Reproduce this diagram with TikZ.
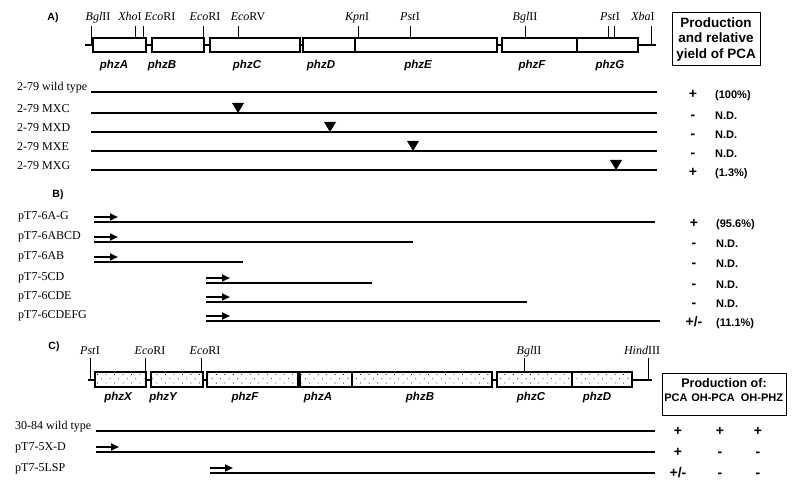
\documentclass[tikz,border=0pt]{standalone}
\usepackage{fontspec}
\setmainfont{Liberation Serif}
\setsansfont{Liberation Sans}
\usetikzlibrary{arrows.meta, patterns.meta, positioning}
\tikzset{
x=1pt, y=-1pt, % one unit is one pixel of the figure, y runs downwards
panel/.style={font=\sffamily\bfseries\fontsize{10.5}{12}\selectfont, inner sep=0pt}, % A), B), C)
site/.style={font=\fontsize{12}{13}\selectfont, inner sep=0pt, anchor=base}, % restriction sites
gene/.style={font=\sffamily\bfseries\itshape\fontsize{11.5}{13}\selectfont, inner sep=0pt},
strain/.style={font=\fontsize{12}{13}\selectfont, inner sep=0pt, anchor=west},
sign/.style={font=\sffamily\bfseries\fontsize{14}{14}\selectfont, inner sep=0pt, text height=8pt, text depth=0pt},
yield/.style={font=\sffamily\bfseries\fontsize{11}{12}\selectfont, inner sep=0pt, anchor=west, text height=8pt, text depth=0pt},
headbox/.style={draw, line width=1pt, align=center, inner sep=0pt, font=\sffamily\bfseries\fontsize{13.5}{15.5}\selectfont},
colhead/.style={font=\sffamily\bfseries\fontsize{11}{12}\selectfont, inner sep=0pt},
dna/.style={line width=2pt}, % backbone of the maps
genebox/.style={draw, line width=1.3pt, fill=white},
stipplebox/.style={genebox, postaction={pattern={Dots[distance=6pt, angle=45, radius=0.6pt]}}},
cut/.style={line width=0.8pt}, % ticks of the sites
track/.style={line width=1.5pt}, % extent of each strain or clone
promoter/.style={-{Triangle[length=8pt, width=7pt]}, line width=2.8pt},
hit/.pic={\fill (-6,-10) -- (6,-10) -- (0,0) -- cycle;}, % insertion mark
}

\begin{document}
\begin{tikzpicture}
\useasboundingbox (0,0) rectangle (800,489);
\fill[white] (0,0) rectangle (800,489);

% A) map of the 2-79 cluster
\node[panel] (A) at (53,18) {A)};
\draw[dna] (85,45) -- (656,45);
\foreach \l/\r in {93/146, 152/204, 210/300, 303/355, 355/497, 502/577, 577/638}
  \draw[genebox] (\l,38) rectangle (\r,52);
\draw[line width=2.4pt] (355,38) -- (355,52) (577,38) -- (577,52);
\foreach \lx/\tx/\ty/\txt [count=\i] in {98/91/45/{\textit{Bgl}II}, 130/135/38/{\textit{Xho}I},
    160/143/38/{\textit{Eco}RI}, 205/203/38/{\textit{Eco}RI}, 248/238/38/{\textit{Eco}RV},
    357/358/38/{\textit{Kpn}I}, 410/410/38/{\textit{Pst}I}, 525/525/38/{\textit{Bgl}II},
    610/608/38/{\textit{Pst}I}, 643/651/45/{\textit{Xba}I}}
  {\node[site] (sa\i) at (\lx,21) {\txt};
   \draw[cut] (\tx,26) -- (\tx,\ty);}
\draw[cut] (614,26) -- (614,38);
\foreach \x/\g in {114/A, 162/B, 247/C, 321/D, 418/E, 532/F, 610/G}
  \node[gene] (gA\g) at (\x,66) {phz\g};
\node[headbox, minimum width=88pt, minimum height=53pt] (yieldA) at (716,39.5) {Production\\and relative\\yield of PCA};

\foreach \yy/\nm/\txt/\sg/\res in {92/wt/2-79 wild type/+/(100\%), 113/mxc/2-79 MXC/-/N.D.,
    132/mxd/2-79 MXD/-/N.D., 151/mxe/2-79 MXE/-/N.D., 170/mxg/2-79 MXG/+/(1.3\%)}
  {\node[strain] (\nm) at (17,\yy-4) {\txt};
   \coordinate (\nm-s) at (91,\yy);
   \coordinate (\nm-e) at (657,\yy);
   \draw[track] (\nm-s) -- (\nm-e);
   \node[sign] (\nm-sign) at (693,\yy+3) {\sg};
   \node[yield] (\nm-yield) at (715,\yy+3) {\res};}
\pic at (238,0 |- mxc-s) {hit};
\pic at (330,0 |- mxd-s) {hit};
\pic at (413,0 |- mxe-s) {hit};
\pic at (616,0 |- mxg-s) {hit};

% B) subclones
\node[panel] (B) at (58,195) {B)};
\foreach \yy/\nm/\txt/\st/\en/\sg/\res in {222/p6ag/pT7-6A-G/94/655/+/(95.6\%),
    242/p6abcd/pT7-6ABCD/94/413/-/N.D., 262/p6ab/pT7-6AB/94/243/-/N.D.,
    283/p5cd/pT7-5CD/206/372/-/N.D., 302/p6cde/pT7-6CDE/206/527/-/N.D.,
    321/p6cdefg/pT7-6CDEFG/206/660/{+/-}/(11.1\%)}
  {\node[strain] (\nm) at (18,\yy-5) {\txt};
   \coordinate (\nm-s) at (\st,\yy);
   \coordinate (\nm-e) at (\en,\yy);
   \draw[track] (\nm-s) -- (\nm-e);
   \draw[promoter] (\nm-s) ++(0,-5) -- ++(24,0);
   \node[sign] (\nm-sign) at (694,\yy+1) {\sg};
   \node[yield] (\nm-yield) at (716,\yy+1) {\res};}

% C) map of the 30-84 cluster
\node[panel] (C) at (54,347) {C)};
\draw[dna] (88,379.5) -- (652,379.5);
\foreach \l/\r in {95/146, 151/203, 207/298, 300/352, 352/492, 497/572, 572/632}
  \draw[stipplebox] (\l,372) rectangle (\r,387);
\foreach \lx/\tx/\ty/\txt [count=\i] in {90/90/379.5/{\textit{Pst}I}, 150/145/372/{\textit{Eco}RI},
    205/201/372/{\textit{Eco}RI}, 529/524/372/{\textit{Bgl}II}, 642/648/379.5/{\textit{Hind}III}}
  {\node[site] (sc\i) at (\lx,354) {\txt};
   \draw[cut] (\tx,358) -- (\tx,\ty);}
\foreach \x/\g in {118/X, 163/Y, 245/F, 318/A, 420/B, 531/C, 597/D}
  \node[gene] (gC\g) at (\x,398) {phz\g};
\node[draw, line width=1pt, minimum width=124pt, minimum height=42pt] (prodC) at (724,394) {};
\node[headbox, draw=none, font=\sffamily\bfseries\fontsize{12.5}{14}\selectfont] (prodtitle) at (724,383) {Production of:};
\node[colhead] (pca) at (676,398) {PCA};
\node[colhead] (ohpca) at (713,398) {OH-PCA};
\node[colhead] (ohphz) at (762,398) {OH-PHZ};

\foreach \yy/\nm/\txt/\st/\sa/\sb/\sc in {431/wt84/30-84 wild type/96/+/+/+,
    452/p5xd/pT7-5X-D/96/+/-/-, 473/p5lsp/pT7-5LSP/210/{+/-}/-/-}
  {\node[strain] (\nm) at (15,\yy-4.5) {\txt};
   \coordinate (\nm-s) at (\st,\yy);
   \coordinate (\nm-e) at (655,\yy);
   \draw[track] (\nm-s) -- (\nm-e);
   \node[sign] (\nm-pca) at (678,\yy) {\sa};
   \node[sign] (\nm-ohpca) at (720,\yy) {\sb};
   \node[sign] (\nm-ohphz) at (758,\yy) {\sc};}
\draw[promoter] (p5xd-s) ++(0,-5) -- ++(23,0);
\draw[promoter] (p5lsp-s) ++(0,-5) -- ++(23,0);
\end{tikzpicture}
\end{document}
